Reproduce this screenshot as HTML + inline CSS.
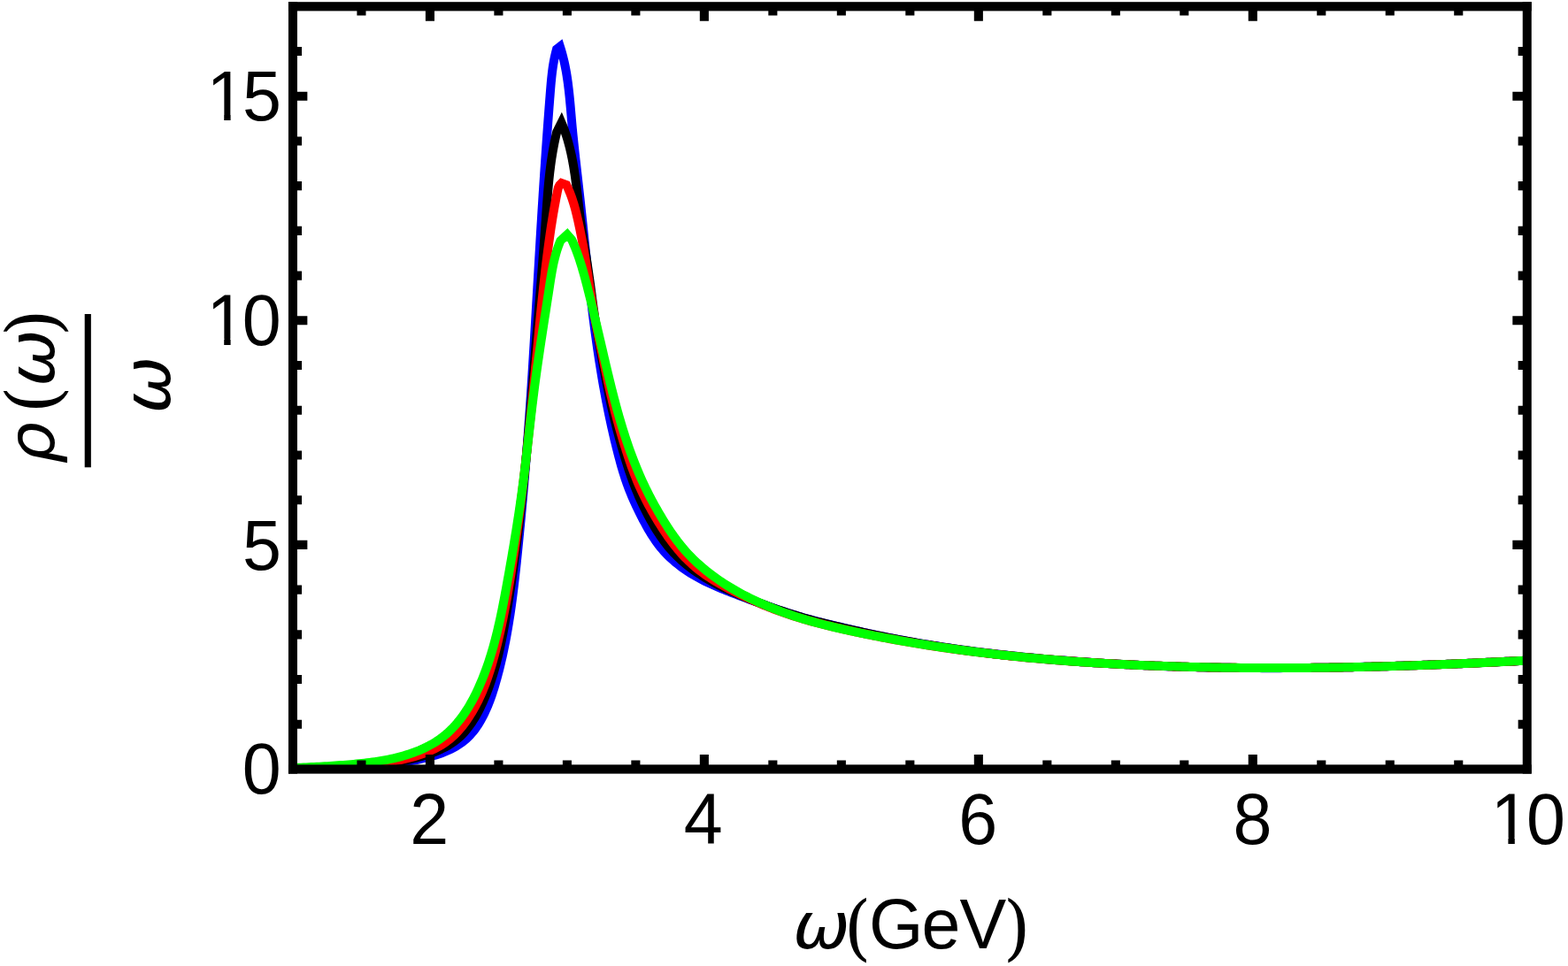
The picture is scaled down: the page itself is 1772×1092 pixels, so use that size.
<!DOCTYPE html>
<html lang="en"><head><meta charset="utf-8"><title>Spectral function plot</title>
<style>html,body{margin:0;padding:0;background:#fff;overflow:hidden}svg{display:block}text{font-family:"Liberation Sans",sans-serif;fill:#000;white-space:pre}text.gk{font-family:"DejaVu Sans","Liberation Sans",sans-serif;font-style:italic}.pr{font-family:"DejaVu Serif","Liberation Serif",serif}</style></head><body>
<svg width="1772" height="1092" viewBox="0 0 1772 1092">
<rect width="1772" height="1092" fill="#fff"/>
<defs><clipPath id="pc"><rect x="330.95" y="7.3" width="1394.80" height="862.20"/></clipPath><clipPath id="c1_1"><rect x="228.55" y="309.52" width="47.18" height="73.60"/><rect x="253.22" y="382.42" width="7.38" height="8.60"/><rect x="275.73" y="309.52" width="60.00" height="100.00"/></clipPath><clipPath id="c1_2"><rect x="228.55" y="56.34" width="47.36" height="73.73"/><rect x="253.22" y="129.36" width="7.38" height="8.47"/><rect x="275.91" y="56.34" width="60.00" height="100.00"/></clipPath><clipPath id="c1_3"><rect x="1679.75" y="873.50" width="47.18" height="73.60"/><rect x="1704.42" y="946.40" width="7.38" height="8.60"/><rect x="1726.93" y="873.50" width="60.00" height="100.00"/></clipPath></defs>
<g clip-path="url(#pc)" fill="none" stroke-width="10" stroke-linejoin="miter" stroke-miterlimit="10" stroke-linecap="butt">
<polyline stroke="#0000ff" points="331.00,869.10 333.97,868.99 336.94,868.89 339.92,868.81 342.91,868.73 345.90,868.66 348.90,868.60 351.91,868.55 354.91,868.50 357.93,868.45 360.94,868.41 363.96,868.36 366.98,868.32 370.00,868.27 373.02,868.23 376.04,868.17 379.06,868.12 382.08,868.05 385.09,867.98 388.11,867.90 391.12,867.81 394.12,867.71 397.13,867.59 400.12,867.46 403.11,867.31 406.10,867.15 409.08,866.97 412.06,866.78 415.04,866.57 418.01,866.34 420.98,866.09 423.95,865.82 426.92,865.54 429.89,865.24 432.85,864.91 435.82,864.57 438.79,864.21 441.77,863.82 444.74,863.42 447.72,862.99 450.71,862.54 453.69,862.07 456.69,861.57 459.69,861.06 462.69,860.52 465.71,859.95 468.73,859.36 471.75,858.74 474.78,858.10 477.81,857.42 480.83,856.71 483.84,855.95 486.84,855.15 489.81,854.30 492.76,853.40 495.69,852.44 498.58,851.43 501.43,850.35 504.25,849.20 507.01,847.98 509.73,846.69 512.39,845.32 514.99,843.87 517.53,842.33 520.00,840.70 522.40,838.98 524.73,837.16 526.97,835.25 529.12,833.22 531.19,831.10 533.17,828.87 535.07,826.56 536.89,824.17 538.63,821.71 540.30,819.19 541.90,816.62 543.42,814.00 544.88,811.35 546.28,808.68 547.61,805.98 548.89,803.25 550.12,800.50 551.29,797.73 552.41,794.94 553.49,792.14 554.53,789.31 555.52,786.48 556.48,783.63 557.41,780.76 558.31,777.89 559.18,775.01 560.02,772.13 560.85,769.23 561.65,766.34 562.44,763.44 563.21,760.53 563.96,757.63 564.69,754.71 565.41,751.80 566.11,748.88 566.79,745.96 567.46,743.04 568.11,740.11 568.75,737.18 569.37,734.24 569.98,731.31 570.57,728.37 571.15,725.43 571.72,722.48 572.27,719.53 572.81,716.58 573.33,713.63 573.85,710.68 574.35,707.72 574.84,704.76 575.32,701.80 575.79,698.83 576.25,695.87 576.70,692.90 577.13,689.93 577.56,686.96 577.98,683.99 578.39,681.01 578.79,678.04 579.19,675.06 579.57,672.08 579.95,669.10 580.32,666.12 580.69,663.14 581.05,660.15 581.40,657.17 581.74,654.18 582.09,651.20 582.42,648.21 582.75,645.22 583.08,642.23 583.40,639.25 583.72,636.26 584.03,633.27 584.35,630.28 584.65,627.29 584.96,624.30 585.27,621.31 585.57,618.32 585.87,615.33 586.17,612.34 586.47,609.35 586.76,606.36 587.06,603.37 587.35,600.38 587.64,597.39 587.93,594.40 588.21,591.41 588.50,588.42 588.78,585.43 589.06,582.44 589.34,579.45 589.62,576.46 589.89,573.47 590.17,570.48 590.44,567.49 590.71,564.50 590.97,561.51 591.24,558.52 591.50,555.53 591.77,552.54 592.03,549.55 592.29,546.56 592.54,543.57 592.80,540.58 593.05,537.59 593.30,534.59 593.55,531.60 593.80,528.61 594.04,525.62 594.29,522.63 594.53,519.64 594.77,516.64 595.01,513.65 595.24,510.66 595.48,507.67 595.71,504.67 595.94,501.68 596.17,498.69 596.39,495.69 596.62,492.70 596.84,489.71 597.06,486.71 597.28,483.72 597.50,480.72 597.72,477.73 597.93,474.73 598.15,471.74 598.36,468.74 598.57,465.75 598.78,462.75 598.98,459.76 599.19,456.76 599.40,453.77 599.60,450.77 599.80,447.78 600.00,444.78 600.20,441.78 600.40,438.79 600.60,435.79 600.79,432.79 600.99,429.80 601.18,426.80 601.38,423.80 601.57,420.81 601.76,417.81 601.95,414.81 602.14,411.82 602.32,408.82 602.51,405.82 602.70,402.82 602.88,399.83 603.07,396.83 603.25,393.83 603.44,390.83 603.62,387.84 603.80,384.84 603.98,381.84 604.16,378.84 604.34,375.85 604.52,372.85 604.70,369.85 604.88,366.85 605.06,363.85 605.23,360.86 605.41,357.86 605.59,354.86 605.76,351.86 605.94,348.86 606.12,345.86 606.29,342.87 606.47,339.87 606.64,336.87 606.82,333.87 606.99,330.87 607.17,327.87 607.34,324.88 607.52,321.88 607.69,318.88 607.87,315.88 608.04,312.88 608.22,309.88 608.39,306.89 608.57,303.89 608.74,300.89 608.92,297.89 609.09,294.89 609.27,291.90 609.45,288.90 609.62,285.90 609.80,282.90 609.98,279.90 610.15,276.91 610.33,273.91 610.51,270.91 610.69,267.91 610.87,264.92 611.05,261.92 611.23,258.92 611.41,255.92 611.60,252.93 611.78,249.93 611.96,246.93 612.15,243.93 612.33,240.94 612.52,237.94 612.71,234.94 612.89,231.95 613.08,228.95 613.27,225.95 613.46,222.96 613.65,219.96 613.84,216.96 614.04,213.97 614.23,210.97 614.43,207.98 614.62,204.98 614.82,201.98 615.02,198.99 615.21,195.99 615.41,193.00 615.61,190.00 615.82,187.00 616.02,184.01 616.22,181.01 616.43,178.02 616.63,175.02 616.84,172.03 617.05,169.03 617.26,166.04 617.47,163.04 617.68,160.05 617.89,157.05 618.11,154.06 618.32,151.06 618.54,148.07 618.76,145.07 618.98,142.08 619.20,139.08 619.42,136.09 619.65,133.09 619.87,130.10 620.10,127.10 620.33,124.11 620.55,121.11 620.79,118.12 621.02,115.12 621.25,112.13 621.49,109.14 621.72,106.14 621.96,103.15 622.20,100.15 622.45,97.16 622.71,94.17 622.98,91.18 623.28,88.19 623.60,85.21 623.94,82.23 624.32,79.25 624.73,76.28 625.19,73.32 625.69,70.36 626.24,67.41 626.84,64.47 627.50,61.54 628.22,58.61 629.00,55.70 632.90,52.60 633.80,55.48 634.66,58.36 635.47,61.25 636.23,64.16 636.94,67.07 637.62,69.99 638.26,72.91 638.85,75.85 639.42,78.78 639.95,81.73 640.45,84.68 640.91,87.64 641.35,90.60 641.77,93.57 642.16,96.54 642.53,99.52 642.87,102.50 643.20,105.48 643.52,108.46 643.82,111.45 644.11,114.44 644.39,117.44 644.66,120.43 644.92,123.42 645.18,126.42 645.44,129.42 645.69,132.41 645.95,135.41 646.21,138.40 646.48,141.40 646.76,144.39 647.04,147.38 647.33,150.37 647.62,153.36 647.92,156.35 648.23,159.33 648.54,162.32 648.85,165.30 649.17,168.28 649.50,171.27 649.82,174.25 650.15,177.23 650.48,180.21 650.82,183.19 651.16,186.17 651.49,189.15 651.83,192.13 652.17,195.11 652.51,198.09 652.85,201.07 653.19,204.05 653.53,207.03 653.87,210.01 654.20,212.99 654.54,215.97 654.87,218.95 655.20,221.93 655.53,224.91 655.85,227.89 656.18,230.88 656.50,233.86 656.82,236.84 657.14,239.82 657.46,242.81 657.78,245.79 658.10,248.77 658.42,251.76 658.73,254.74 659.05,257.73 659.36,260.71 659.68,263.70 659.99,266.68 660.31,269.66 660.62,272.65 660.94,275.63 661.25,278.62 661.57,281.60 661.89,284.59 662.21,287.57 662.52,290.55 662.84,293.54 663.16,296.52 663.49,299.51 663.81,302.49 664.14,305.47 664.46,308.46 664.79,311.44 665.12,314.42 665.46,317.41 665.79,320.39 666.13,323.37 666.47,326.35 666.81,329.33 667.16,332.32 667.51,335.30 667.86,338.28 668.21,341.26 668.57,344.24 668.93,347.21 669.30,350.19 669.67,353.17 670.04,356.15 670.41,359.13 670.79,362.10 671.18,365.08 671.57,368.05 671.96,371.03 672.36,374.00 672.76,376.97 673.17,379.95 673.58,382.92 674.00,385.89 674.42,388.86 674.85,391.83 675.28,394.80 675.72,397.77 676.17,400.73 676.62,403.70 677.07,406.67 677.54,409.63 678.00,412.59 678.48,415.56 678.96,418.52 679.45,421.48 679.94,424.44 680.44,427.40 680.95,430.35 681.47,433.31 681.99,436.26 682.52,439.22 683.05,442.17 683.60,445.12 684.15,448.07 684.71,451.02 685.27,453.96 685.85,456.91 686.43,459.85 687.02,462.79 687.62,465.73 688.22,468.67 688.84,471.61 689.46,474.54 690.09,477.48 690.73,480.41 691.38,483.34 692.04,486.27 692.70,489.19 693.38,492.11 694.06,495.04 694.76,497.96 695.46,500.87 696.17,503.79 696.89,506.70 697.62,509.61 698.36,512.52 699.12,515.43 699.88,518.33 700.66,521.23 701.45,524.13 702.27,527.01 703.10,529.89 703.96,532.77 704.84,535.63 705.75,538.49 706.68,541.34 707.64,544.18 708.64,547.00 709.67,549.81 710.73,552.62 711.83,555.40 712.95,558.18 714.11,560.95 715.30,563.71 716.51,566.45 717.75,569.19 719.01,571.92 720.30,574.63 721.61,577.34 722.95,580.04 724.30,582.73 725.68,585.42 727.07,588.09 728.49,590.76 729.93,593.41 731.39,596.05 732.89,598.66 734.43,601.26 736.00,603.82 737.61,606.36 739.26,608.87 740.96,611.34 742.70,613.78 744.50,616.17 746.35,618.53 748.27,620.83 750.24,623.09 752.27,625.29 754.36,627.44 756.50,629.55 758.70,631.60 760.95,633.61 763.24,635.57 765.58,637.47 767.96,639.33 770.38,641.14 772.83,642.91 775.32,644.62 777.84,646.29 780.39,647.91 782.96,649.48 785.55,651.01 788.17,652.49 790.80,653.93 793.46,655.33 796.13,656.69 798.82,658.02 801.52,659.31 804.24,660.57 806.97,661.80 809.72,663.01 812.47,664.19 815.24,665.35 818.01,666.48 820.80,667.60 823.59,668.71 826.39,669.80 829.19,670.88 832.00,671.95 834.81,673.01 837.62,674.07 840.43,675.13 843.24,676.19 846.06,677.24 848.87,678.29 851.69,679.33 854.50,680.37 857.32,681.41 860.14,682.43 862.97,683.46 865.79,684.47 868.62,685.48 871.45,686.48 874.28,687.47 877.12,688.45 879.96,689.42 882.80,690.38 885.64,691.33 888.49,692.27 891.34,693.19 894.20,694.11 897.06,695.00 899.92,695.89 902.79,696.76 905.66,697.62 908.54,698.45 911.42,699.28 914.30,700.08 917.20,700.87 920.09,701.64 922.99,702.40 925.90,703.14 928.81,703.86 931.72,704.57 934.64,705.28 937.56,705.97 940.48,706.66 943.40,707.35 946.32,708.03 949.25,708.71 952.17,709.39 955.09,710.08 958.02,710.76 960.94,711.44 963.86,712.12 966.79,712.80 969.72,713.47 972.64,714.13 975.57,714.78 978.50,715.43 981.43,716.07 984.37,716.70 987.30,717.33 990.24,717.95 993.18,718.56 996.12,719.16 999.06,719.76 1002.00,720.35 1004.94,720.93 1007.88,721.51 1010.83,722.08 1013.78,722.64 1016.72,723.20 1019.67,723.75 1022.62,724.29 1025.58,724.83 1028.53,725.36 1031.48,725.88 1034.44,726.40 1037.39,726.91 1040.35,727.41 1043.31,727.91 1046.27,728.40 1049.23,728.89 1052.19,729.37 1055.15,729.84 1058.12,730.31 1061.08,730.77 1064.05,731.22 1067.01,731.67 1069.98,732.12 1072.95,732.55 1075.92,732.99 1078.89,733.41 1081.86,733.83 1084.83,734.25 1087.80,734.66 1090.78,735.06 1093.75,735.46 1096.73,735.85 1099.70,736.24 1102.68,736.62 1105.66,737.00 1108.63,737.37 1111.61,737.74 1114.59,738.10 1117.57,738.46 1120.55,738.81 1123.54,739.16 1126.52,739.50 1129.50,739.84 1132.48,740.17 1135.47,740.50 1138.45,740.82 1141.44,741.14 1144.42,741.45 1147.41,741.76 1150.40,742.07 1153.38,742.37 1156.37,742.66 1159.36,742.95 1162.35,743.24 1165.34,743.52 1168.33,743.80 1171.32,744.08 1174.31,744.35 1177.30,744.61 1180.29,744.88 1183.28,745.13 1186.27,745.39 1189.26,745.64 1192.25,745.89 1195.24,746.13 1198.24,746.37 1201.23,746.60 1204.22,746.84 1207.21,747.06 1210.21,747.29 1213.20,747.51 1216.19,747.73 1219.19,747.94 1222.18,748.15 1225.17,748.36 1228.17,748.56 1231.16,748.76 1234.16,748.96 1237.15,749.15 1240.15,749.34 1243.14,749.53 1246.14,749.71 1249.13,749.89 1252.13,750.07 1255.12,750.24 1258.12,750.41 1261.11,750.58 1264.11,750.74 1267.11,750.90 1270.10,751.06 1273.10,751.21 1276.10,751.36 1279.09,751.51 1282.09,751.65 1285.09,751.79 1288.08,751.93 1291.08,752.06 1294.08,752.20 1297.08,752.32 1300.07,752.45 1303.07,752.57 1306.07,752.69 1309.07,752.81 1312.07,752.92 1315.06,753.03 1318.06,753.14 1321.06,753.24 1324.06,753.34 1327.06,753.44 1330.06,753.53 1333.05,753.63 1336.05,753.72 1339.05,753.80 1342.05,753.88 1345.05,753.97 1348.05,754.04 1351.05,754.12 1354.05,754.19 1357.05,754.26 1360.05,754.33 1363.05,754.39 1366.05,754.45 1369.05,754.51 1372.05,754.57 1375.05,754.62 1378.05,754.67 1381.05,754.72 1384.05,754.76 1387.05,754.81 1390.05,754.84 1393.05,754.88 1396.05,754.92 1399.05,754.95 1402.05,754.98 1405.05,755.01 1408.05,755.03 1411.05,755.05 1414.05,755.07 1417.05,755.09 1420.05,755.10 1423.06,755.12 1426.06,755.13 1429.06,755.13 1432.06,755.14 1435.06,755.14 1438.06,755.14 1441.06,755.14 1444.06,755.14 1447.06,755.13 1450.06,755.12 1453.07,755.11 1456.07,755.10 1459.07,755.08 1462.07,755.06 1465.07,755.04 1468.07,755.02 1471.07,754.99 1474.07,754.97 1477.08,754.94 1480.08,754.91 1483.08,754.88 1486.08,754.84 1489.08,754.80 1492.08,754.76 1495.08,754.72 1498.08,754.68 1501.09,754.63 1504.09,754.59 1507.09,754.54 1510.09,754.49 1513.09,754.43 1516.09,754.38 1519.09,754.32 1522.09,754.26 1525.09,754.20 1528.09,754.14 1531.10,754.07 1534.10,754.01 1537.10,753.94 1540.10,753.87 1543.10,753.80 1546.10,753.72 1549.10,753.65 1552.10,753.57 1555.10,753.49 1558.10,753.41 1561.10,753.33 1564.10,753.24 1567.10,753.16 1570.10,753.07 1573.10,752.98 1576.10,752.89 1579.10,752.80 1582.10,752.71 1585.10,752.61 1588.10,752.51 1591.10,752.42 1594.10,752.32 1597.10,752.21 1600.10,752.11 1603.10,752.01 1606.10,751.90 1609.10,751.79 1612.10,751.68 1615.10,751.57 1618.10,751.46 1621.10,751.35 1624.10,751.24 1627.10,751.12 1630.09,751.00 1633.09,750.89 1636.09,750.77 1639.09,750.65 1642.09,750.52 1645.09,750.40 1648.08,750.28 1651.08,750.15 1654.08,750.02 1657.08,749.89 1660.07,749.77 1663.07,749.64 1666.07,749.50 1669.07,749.37 1672.06,749.24 1675.06,749.10 1678.06,748.97 1681.05,748.83 1684.05,748.69 1687.05,748.55 1690.04,748.41 1693.04,748.27 1696.04,748.13 1699.03,747.99 1702.03,747.84 1705.02,747.70 1708.02,747.55 1711.01,747.40 1714.01,747.26 1717.00,747.11 1720.00,746.96 1722.99,746.81 1725.99,746.66"/>
<polyline stroke="#000000" points="330.99,868.90 334.01,868.79 337.03,868.69 340.05,868.60 343.06,868.52 346.08,868.43 349.09,868.36 352.10,868.28 355.11,868.21 358.12,868.13 361.13,868.06 364.14,867.99 367.15,867.91 370.15,867.83 373.16,867.75 376.16,867.66 379.16,867.57 382.16,867.47 385.16,867.36 388.16,867.24 391.16,867.11 394.16,866.97 397.15,866.82 400.15,866.66 403.14,866.48 406.13,866.29 409.13,866.08 412.12,865.86 415.11,865.61 418.10,865.35 421.09,865.07 424.07,864.77 427.06,864.45 430.05,864.10 433.03,863.73 436.02,863.34 439.00,862.91 441.98,862.47 444.97,861.99 447.95,861.49 450.93,860.96 453.91,860.39 456.89,859.80 459.87,859.17 462.85,858.51 465.83,857.82 468.81,857.08 471.79,856.32 474.76,855.51 477.72,854.66 480.66,853.76 483.59,852.81 486.49,851.81 489.36,850.75 492.21,849.64 495.01,848.46 497.78,847.21 500.49,845.90 503.16,844.51 505.78,843.05 508.34,841.51 510.83,839.89 513.26,838.19 515.62,836.39 517.90,834.51 520.10,832.53 522.22,830.46 524.26,828.30 526.22,826.06 528.12,823.75 529.94,821.38 531.70,818.94 533.40,816.44 535.03,813.90 536.61,811.32 538.13,808.70 539.60,806.05 541.01,803.36 542.38,800.65 543.71,797.92 544.99,795.17 546.23,792.40 547.43,789.61 548.59,786.82 549.72,784.01 550.82,781.20 551.88,778.38 552.91,775.54 553.91,772.70 554.87,769.85 555.81,766.99 556.72,764.13 557.60,761.25 558.45,758.37 559.28,755.48 560.09,752.59 560.86,749.69 561.62,746.78 562.36,743.87 563.07,740.95 563.76,738.02 564.44,735.10 565.09,732.16 565.73,729.22 566.35,726.28 566.96,723.33 567.55,720.39 568.13,717.43 568.69,714.48 569.25,711.52 569.79,708.56 570.33,705.59 570.85,702.63 571.37,699.66 571.88,696.70 572.38,693.73 572.88,690.76 573.37,687.79 573.86,684.82 574.34,681.85 574.82,678.87 575.29,675.90 575.76,672.93 576.22,669.95 576.67,666.98 577.12,664.00 577.57,661.03 578.01,658.05 578.45,655.07 578.88,652.09 579.30,649.11 579.73,646.13 580.14,643.15 580.56,640.17 580.97,637.19 581.37,634.21 581.77,631.23 582.17,628.24 582.56,625.26 582.95,622.28 583.33,619.29 583.71,616.31 584.09,613.32 584.46,610.33 584.83,607.35 585.20,604.36 585.56,601.37 585.92,598.39 586.28,595.40 586.63,592.41 586.98,589.42 587.33,586.43 587.67,583.44 588.01,580.45 588.35,577.46 588.69,574.47 589.02,571.48 589.35,568.49 589.67,565.50 590.00,562.51 590.32,559.52 590.64,556.53 590.96,553.53 591.27,550.54 591.58,547.55 591.89,544.56 592.20,541.56 592.50,538.57 592.80,535.58 593.11,532.58 593.40,529.59 593.70,526.59 593.99,523.60 594.28,520.60 594.57,517.61 594.86,514.61 595.15,511.62 595.43,508.62 595.71,505.63 595.99,502.63 596.27,499.63 596.55,496.64 596.82,493.64 597.10,490.65 597.37,487.65 597.64,484.65 597.91,481.65 598.18,478.66 598.44,475.66 598.71,472.66 598.97,469.66 599.23,466.67 599.50,463.67 599.75,460.67 600.01,457.67 600.27,454.67 600.53,451.68 600.78,448.68 601.04,445.68 601.29,442.68 601.54,439.68 601.80,436.68 602.05,433.68 602.30,430.69 602.55,427.69 602.80,424.69 603.05,421.69 603.29,418.69 603.54,415.69 603.79,412.69 604.03,409.69 604.28,406.69 604.53,403.69 604.77,400.69 605.02,397.69 605.26,394.70 605.51,391.70 605.75,388.70 606.00,385.70 606.24,382.70 606.49,379.70 606.73,376.70 606.97,373.70 607.22,370.70 607.46,367.70 607.71,364.70 607.95,361.70 608.20,358.71 608.45,355.71 608.69,352.71 608.94,349.71 609.18,346.71 609.43,343.71 609.68,340.71 609.92,337.71 610.17,334.72 610.41,331.72 610.66,328.72 610.90,325.72 611.14,322.72 611.39,319.72 611.63,316.72 611.87,313.72 612.11,310.72 612.35,307.73 612.59,304.73 612.83,301.73 613.06,298.73 613.30,295.73 613.53,292.73 613.77,289.73 614.00,286.73 614.23,283.73 614.46,280.73 614.68,277.73 614.91,274.73 615.13,271.73 615.35,268.73 615.58,265.73 615.79,262.73 616.01,259.73 616.22,256.72 616.44,253.72 616.65,250.72 616.86,247.72 617.06,244.72 617.27,241.72 617.48,238.71 617.69,235.71 617.91,232.71 618.12,229.71 618.35,226.71 618.58,223.71 618.82,220.71 619.06,217.72 619.31,214.72 619.58,211.73 619.85,208.73 620.14,205.74 620.44,202.75 620.76,199.76 621.09,196.77 621.43,193.79 621.79,190.80 622.17,187.82 622.57,184.84 622.99,181.87 623.43,178.89 623.89,175.92 624.38,172.95 624.89,169.98 625.42,167.02 625.98,164.06 626.57,161.10 627.18,158.14 627.82,155.19 628.50,152.24 629.20,149.30 634.50,138.70 636.80,144.10 637.85,146.95 638.85,149.81 639.80,152.67 640.70,155.55 641.56,158.43 642.38,161.33 643.15,164.23 643.89,167.14 644.59,170.05 645.25,172.98 645.88,175.91 646.48,178.84 647.05,181.79 647.59,184.74 648.11,187.69 648.60,190.65 649.06,193.61 649.51,196.58 649.94,199.55 650.35,202.52 650.75,205.50 651.14,208.48 651.51,211.46 651.87,214.44 652.23,217.43 652.58,220.42 652.93,223.40 653.27,226.39 653.62,229.38 653.97,232.37 654.32,235.36 654.67,238.34 655.04,241.33 655.41,244.31 655.79,247.30 656.19,250.28 656.60,253.25 657.03,256.23 657.47,259.20 657.92,262.17 658.39,265.14 658.86,268.10 659.33,271.07 659.81,274.03 660.30,277.00 660.78,279.96 661.26,282.93 661.74,285.89 662.22,288.86 662.69,291.82 663.16,294.79 663.61,297.76 664.07,300.73 664.51,303.70 664.95,306.67 665.39,309.64 665.82,312.62 666.24,315.59 666.66,318.57 667.08,321.54 667.48,324.52 667.89,327.50 668.29,330.47 668.69,333.45 669.08,336.43 669.48,339.41 669.88,342.38 670.28,345.36 670.69,348.34 671.11,351.31 671.53,354.28 671.96,357.26 672.40,360.23 672.86,363.19 673.33,366.16 673.81,369.12 674.31,372.08 674.81,375.04 675.33,378.00 675.85,380.96 676.38,383.92 676.91,386.87 677.45,389.83 677.99,392.78 678.54,395.74 679.09,398.69 679.64,401.64 680.18,404.60 680.73,407.55 681.28,410.51 681.83,413.46 682.38,416.42 682.94,419.37 683.50,422.32 684.06,425.28 684.63,428.23 685.20,431.18 685.77,434.13 686.36,437.08 686.95,440.02 687.54,442.97 688.15,445.91 688.76,448.86 689.38,451.80 690.01,454.74 690.65,457.67 691.30,460.61 691.96,463.54 692.63,466.47 693.31,469.40 694.01,472.32 694.72,475.24 695.44,478.16 696.17,481.07 696.92,483.99 697.68,486.90 698.45,489.80 699.23,492.70 700.02,495.60 700.82,498.50 701.63,501.39 702.45,504.28 703.29,507.16 704.13,510.04 704.97,512.92 705.83,515.79 706.70,518.66 707.58,521.53 708.47,524.38 709.38,527.24 710.31,530.08 711.25,532.93 712.21,535.76 713.20,538.59 714.20,541.41 715.23,544.22 716.28,547.03 717.36,549.82 718.47,552.61 719.61,555.39 720.77,558.16 721.95,560.92 723.17,563.67 724.41,566.42 725.68,569.15 726.98,571.88 728.31,574.59 729.66,577.30 731.04,579.99 732.44,582.68 733.88,585.35 735.34,588.02 736.83,590.67 738.36,593.31 739.91,595.93 741.50,598.52 743.12,601.10 744.77,603.65 746.46,606.17 748.19,608.65 749.96,611.11 751.76,613.52 753.61,615.90 755.50,618.23 757.43,620.52 759.41,622.76 761.43,624.96 763.49,627.10 765.60,629.20 767.75,631.25 769.93,633.25 772.16,635.22 774.43,637.13 776.73,639.01 779.06,640.85 781.43,642.64 783.83,644.40 786.26,646.12 788.73,647.80 791.22,649.45 793.74,651.06 796.28,652.63 798.85,654.18 801.45,655.69 804.06,657.17 806.70,658.63 809.36,660.05 812.04,661.44 814.73,662.81 817.44,664.16 820.17,665.48 822.91,666.77 825.66,668.04 828.43,669.29 831.20,670.53 833.99,671.74 836.78,672.93 839.58,674.10 842.38,675.26 845.19,676.41 848.00,677.53 850.81,678.65 853.62,679.75 856.43,680.84 859.25,681.92 862.06,682.99 864.88,684.04 867.69,685.08 870.51,686.11 873.33,687.12 876.16,688.12 878.98,689.11 881.81,690.08 884.64,691.04 887.48,691.99 890.32,692.92 893.16,693.84 896.01,694.74 898.86,695.63 901.72,696.51 904.58,697.37 907.45,698.21 910.32,699.05 913.20,699.86 916.09,700.66 918.98,701.45 921.88,702.22 924.78,702.98 927.69,703.72 930.61,704.45 933.53,705.18 936.45,705.89 939.38,706.59 942.31,707.29 945.24,707.98 948.17,708.66 951.10,709.34 954.03,710.02 956.97,710.69 959.90,711.36 962.84,712.02 965.77,712.68 968.71,713.34 971.64,713.99 974.58,714.64 977.52,715.28 980.46,715.91 983.40,716.54 986.34,717.17 989.28,717.79 992.22,718.40 995.17,719.01 998.11,719.61 1001.06,720.20 1004.00,720.79 1006.95,721.37 1009.90,721.94 1012.85,722.51 1015.80,723.07 1018.75,723.62 1021.71,724.17 1024.66,724.71 1027.62,725.24 1030.58,725.77 1033.54,726.29 1036.49,726.81 1039.45,727.31 1042.42,727.82 1045.38,728.31 1048.34,728.80 1051.31,729.29 1054.27,729.76 1057.24,730.23 1060.21,730.70 1063.17,731.16 1066.14,731.61 1069.11,732.06 1072.09,732.50 1075.06,732.94 1078.03,733.37 1081.00,733.79 1083.98,734.21 1086.95,734.62 1089.93,735.03 1092.91,735.43 1095.89,735.83 1098.86,736.22 1101.84,736.61 1104.82,736.99 1107.80,737.37 1110.79,737.74 1113.77,738.10 1116.75,738.46 1119.73,738.82 1122.72,739.16 1125.70,739.51 1128.69,739.85 1131.68,740.18 1134.66,740.51 1137.65,740.84 1140.64,741.16 1143.63,741.47 1146.62,741.79 1149.61,742.09 1152.60,742.39 1155.59,742.69 1158.58,742.98 1161.57,743.27 1164.56,743.55 1167.56,743.83 1170.55,744.11 1173.54,744.38 1176.54,744.64 1179.53,744.91 1182.53,745.16 1185.52,745.42 1188.52,745.67 1191.51,745.91 1194.51,746.15 1197.51,746.39 1200.50,746.62 1203.50,746.85 1206.50,747.08 1209.50,747.30 1212.49,747.52 1215.49,747.74 1218.49,747.95 1221.49,748.15 1224.49,748.36 1227.49,748.56 1230.49,748.76 1233.49,748.95 1236.49,749.14 1239.49,749.33 1242.49,749.51 1245.49,749.69 1248.49,749.87 1251.49,750.04 1254.49,750.21 1257.49,750.38 1260.49,750.54 1263.49,750.71 1266.49,750.86 1269.49,751.02 1272.49,751.17 1275.50,751.32 1278.50,751.46 1281.50,751.61 1284.50,751.75 1287.50,751.88 1290.50,752.02 1293.51,752.15 1296.51,752.27 1299.51,752.40 1302.51,752.52 1305.51,752.64 1308.52,752.75 1311.52,752.86 1314.52,752.97 1317.52,753.08 1320.53,753.18 1323.53,753.28 1326.53,753.38 1329.54,753.48 1332.54,753.57 1335.54,753.66 1338.55,753.74 1341.55,753.83 1344.55,753.91 1347.56,753.99 1350.56,754.06 1353.56,754.14 1356.57,754.21 1359.57,754.27 1362.57,754.34 1365.58,754.40 1368.58,754.46 1371.58,754.51 1374.59,754.57 1377.59,754.62 1380.60,754.67 1383.60,754.71 1386.60,754.76 1389.61,754.80 1392.61,754.84 1395.62,754.87 1398.62,754.91 1401.63,754.94 1404.63,754.97 1407.64,754.99 1410.64,755.01 1413.64,755.04 1416.65,755.05 1419.65,755.07 1422.66,755.08 1425.66,755.09 1428.67,755.10 1431.67,755.11 1434.68,755.11 1437.68,755.12 1440.69,755.12 1443.69,755.11 1446.70,755.11 1449.70,755.10 1452.71,755.09 1455.71,755.08 1458.71,755.06 1461.72,755.05 1464.72,755.03 1467.73,755.01 1470.73,754.99 1473.74,754.96 1476.74,754.93 1479.75,754.90 1482.75,754.87 1485.76,754.84 1488.76,754.80 1491.77,754.77 1494.77,754.73 1497.78,754.68 1500.78,754.64 1503.79,754.59 1506.79,754.55 1509.80,754.50 1512.80,754.45 1515.81,754.39 1518.81,754.34 1521.82,754.28 1524.82,754.22 1527.83,754.16 1530.83,754.09 1533.83,754.03 1536.84,753.96 1539.84,753.89 1542.85,753.82 1545.85,753.75 1548.86,753.68 1551.86,753.60 1554.87,753.52 1557.87,753.44 1560.87,753.36 1563.88,753.28 1566.88,753.19 1569.89,753.11 1572.89,753.02 1575.89,752.93 1578.90,752.84 1581.90,752.74 1584.91,752.65 1587.91,752.55 1590.91,752.45 1593.92,752.35 1596.92,752.25 1599.92,752.15 1602.93,752.05 1605.93,751.94 1608.93,751.83 1611.94,751.72 1614.94,751.61 1617.94,751.50 1620.95,751.39 1623.95,751.28 1626.95,751.16 1629.96,751.04 1632.96,750.92 1635.96,750.80 1638.96,750.68 1641.97,750.56 1644.97,750.43 1647.97,750.31 1650.97,750.18 1653.98,750.05 1656.98,749.92 1659.98,749.79 1662.98,749.66 1665.98,749.53 1668.98,749.40 1671.99,749.26 1674.99,749.12 1677.99,748.99 1680.99,748.85 1683.99,748.71 1686.99,748.56 1689.99,748.42 1692.99,748.28 1695.99,748.13 1698.99,747.99 1702.00,747.84 1705.00,747.69 1708.00,747.54 1711.00,747.40 1714.00,747.24 1717.00,747.09 1720.00,746.94 1722.99,746.79 1725.99,746.63"/>
<polyline stroke="#ff0000" points="330.97,868.68 334.03,868.57 337.08,868.47 340.12,868.37 343.15,868.28 346.18,868.18 349.20,868.09 352.22,867.99 355.22,867.90 358.23,867.80 361.22,867.70 364.21,867.60 367.20,867.49 370.19,867.38 373.17,867.26 376.14,867.14 379.12,867.00 382.09,866.86 385.06,866.71 388.02,866.55 390.99,866.38 393.96,866.20 396.92,866.01 399.89,865.80 402.85,865.57 405.82,865.34 408.78,865.08 411.75,864.81 414.72,864.52 417.69,864.22 420.67,863.89 423.65,863.55 426.63,863.18 429.62,862.79 432.61,862.38 435.60,861.94 438.60,861.48 441.61,861.00 444.62,860.49 447.63,859.95 450.64,859.37 453.64,858.77 456.64,858.12 459.63,857.43 462.60,856.71 465.56,855.93 468.50,855.11 471.42,854.24 474.32,853.32 477.19,852.34 480.03,851.30 482.84,850.20 485.61,849.04 488.34,847.81 491.04,846.51 493.69,845.14 496.30,843.70 498.85,842.19 501.36,840.59 503.81,838.91 506.20,837.15 508.53,835.30 510.80,833.36 513.01,831.34 515.15,829.23 517.23,827.04 519.25,824.79 521.21,822.47 523.11,820.10 524.95,817.68 526.74,815.22 528.47,812.73 530.15,810.20 531.77,807.65 533.35,805.08 534.87,802.49 536.35,799.87 537.78,797.23 539.16,794.57 540.50,791.89 541.79,789.19 543.05,786.47 544.27,783.73 545.44,780.98 546.58,778.21 547.69,775.42 548.76,772.62 549.79,769.81 550.80,766.98 551.77,764.14 552.72,761.29 553.64,758.43 554.54,755.56 555.41,752.69 556.25,749.80 557.08,746.91 557.89,744.01 558.67,741.10 559.44,738.19 560.20,735.28 560.94,732.36 561.66,729.44 562.38,726.52 563.08,723.60 563.76,720.67 564.44,717.74 565.10,714.81 565.76,711.88 566.40,708.94 567.03,706.01 567.65,703.07 568.26,700.13 568.85,697.18 569.44,694.24 570.02,691.29 570.59,688.35 571.15,685.40 571.70,682.45 572.24,679.49 572.78,676.54 573.30,673.58 573.82,670.63 574.33,667.67 574.83,664.71 575.33,661.75 575.82,658.79 576.30,655.82 576.77,652.86 577.24,649.89 577.71,646.93 578.17,643.96 578.62,640.99 579.07,638.02 579.51,635.05 579.95,632.08 580.39,629.11 580.82,626.14 581.25,623.17 581.67,620.20 582.10,617.22 582.51,614.25 582.93,611.28 583.34,608.30 583.75,605.33 584.16,602.35 584.56,599.37 584.96,596.40 585.36,593.42 585.75,590.44 586.14,587.47 586.53,584.49 586.92,581.51 587.30,578.53 587.68,575.55 588.06,572.57 588.44,569.59 588.81,566.61 589.18,563.63 589.55,560.65 589.91,557.67 590.28,554.69 590.64,551.70 590.99,548.72 591.35,545.74 591.70,542.76 592.06,539.77 592.41,536.79 592.75,533.81 593.10,530.82 593.44,527.84 593.78,524.85 594.12,521.87 594.46,518.88 594.79,515.90 595.12,512.91 595.45,509.93 595.78,506.94 596.11,503.95 596.44,500.97 596.76,497.98 597.08,494.99 597.40,492.01 597.72,489.02 598.04,486.03 598.35,483.04 598.67,480.06 598.98,477.07 599.29,474.08 599.60,471.09 599.91,468.11 600.22,465.12 600.52,462.13 600.83,459.14 601.13,456.15 601.43,453.17 601.74,450.18 602.04,447.19 602.33,444.20 602.63,441.21 602.93,438.22 603.22,435.23 603.52,432.25 603.81,429.26 604.11,426.27 604.40,423.28 604.69,420.29 604.98,417.30 605.27,414.32 605.56,411.33 605.85,408.34 606.14,405.35 606.43,402.36 606.71,399.37 607.00,396.39 607.29,393.40 607.57,390.41 607.86,387.42 608.14,384.44 608.43,381.45 608.72,378.46 609.01,375.47 609.29,372.49 609.58,369.50 609.87,366.51 610.17,363.52 610.46,360.54 610.75,357.55 611.05,354.56 611.35,351.58 611.65,348.59 611.95,345.60 612.26,342.62 612.57,339.63 612.88,336.64 613.19,333.66 613.51,330.67 613.83,327.69 614.15,324.70 614.48,321.71 614.81,318.73 615.14,315.74 615.48,312.76 615.83,309.77 616.17,306.79 616.52,303.80 616.88,300.81 617.24,297.83 617.61,294.84 617.98,291.86 618.35,288.87 618.74,285.89 619.12,282.90 619.52,279.92 619.92,276.94 620.32,273.95 620.74,270.97 621.16,267.99 621.58,265.02 622.02,262.04 622.46,259.07 622.91,256.10 623.37,253.13 623.84,250.16 624.32,247.20 624.81,244.24 625.30,241.29 625.81,238.34 626.33,235.39 626.86,232.45 627.39,229.51 627.94,226.57 628.50,223.65 629.08,220.72 629.66,217.81 630.25,214.89 630.98,212.03 632.25,209.37 634.55,207.10 640.10,209.10 641.40,211.77 642.63,214.48 643.78,217.21 644.87,219.98 645.89,222.77 646.86,225.58 647.78,228.42 648.65,231.28 649.47,234.16 650.25,237.05 651.00,239.96 651.71,242.87 652.40,245.80 653.07,248.74 653.72,251.68 654.35,254.62 654.97,257.56 655.58,260.51 656.18,263.46 656.76,266.41 657.34,269.37 657.90,272.32 658.45,275.28 658.99,278.24 659.51,281.20 660.03,284.16 660.54,287.12 661.04,290.09 661.53,293.05 662.01,296.02 662.48,298.98 662.95,301.94 663.41,304.91 663.87,307.87 664.32,310.84 664.77,313.80 665.22,316.77 665.67,319.73 666.12,322.69 666.57,325.66 667.03,328.62 667.49,331.58 667.95,334.54 668.41,337.50 668.89,340.46 669.37,343.41 669.86,346.37 670.35,349.32 670.86,352.28 671.38,355.23 671.91,358.18 672.45,361.13 673.01,364.07 673.58,367.02 674.16,369.96 674.76,372.90 675.36,375.84 675.97,378.78 676.59,381.71 677.21,384.65 677.83,387.59 678.45,390.52 679.08,393.46 679.70,396.40 680.32,399.33 680.93,402.27 681.54,405.21 682.15,408.15 682.75,411.08 683.36,414.02 683.96,416.96 684.57,419.90 685.18,422.83 685.79,425.77 686.41,428.70 687.04,431.64 687.67,434.57 688.32,437.50 688.97,440.42 689.64,443.35 690.31,446.27 691.00,449.20 691.70,452.11 692.40,455.03 693.12,457.95 693.85,460.86 694.59,463.77 695.34,466.67 696.10,469.58 696.87,472.48 697.66,475.38 698.45,478.28 699.25,481.17 700.07,484.06 700.89,486.94 701.73,489.83 702.57,492.71 703.43,495.59 704.30,498.46 705.18,501.33 706.07,504.20 706.97,507.06 707.88,509.92 708.80,512.77 709.74,515.62 710.68,518.47 711.64,521.31 712.62,524.14 713.62,526.97 714.63,529.79 715.67,532.60 716.73,535.40 717.81,538.20 718.92,540.98 720.05,543.75 721.21,546.50 722.40,549.25 723.63,551.98 724.88,554.70 726.16,557.41 727.47,560.11 728.80,562.79 730.16,565.46 731.55,568.13 732.96,570.78 734.40,573.42 735.85,576.05 737.33,578.67 738.84,581.28 740.36,583.89 741.90,586.48 743.46,589.07 745.04,591.64 746.64,594.20 748.27,596.75 749.92,599.28 751.59,601.79 753.29,604.29 755.02,606.76 756.77,609.21 758.55,611.64 760.36,614.04 762.21,616.41 764.08,618.75 765.99,621.07 767.92,623.35 769.90,625.59 771.91,627.80 773.95,629.97 776.04,632.10 778.16,634.19 780.32,636.24 782.52,638.25 784.76,640.20 787.04,642.11 789.37,643.98 791.73,645.80 794.12,647.59 796.55,649.33 799.01,651.03 801.51,652.69 804.03,654.32 806.57,655.92 809.14,657.48 811.74,659.01 814.36,660.52 816.99,661.99 819.64,663.44 822.31,664.86 824.99,666.26 827.69,667.64 830.39,669.00 833.10,670.34 835.82,671.67 838.54,672.97 841.27,674.27 844.00,675.55 846.73,676.81 849.47,678.06 852.22,679.29 854.96,680.51 857.71,681.71 860.47,682.89 863.23,684.05 866.00,685.20 868.78,686.32 871.56,687.43 874.35,688.51 877.14,689.58 879.95,690.62 882.76,691.65 885.58,692.65 888.40,693.63 891.24,694.59 894.08,695.53 896.93,696.44 899.78,697.34 902.65,698.22 905.51,699.09 908.39,699.93 911.27,700.76 914.15,701.58 917.04,702.38 919.94,703.16 922.84,703.93 925.74,704.69 928.65,705.44 931.56,706.17 934.48,706.89 937.39,707.60 940.31,708.30 943.23,709.00 946.16,709.68 949.08,710.36 952.01,711.03 954.94,711.69 957.87,712.35 960.80,713.00 963.73,713.64 966.67,714.28 969.60,714.91 972.54,715.53 975.47,716.15 978.41,716.76 981.35,717.36 984.29,717.96 987.23,718.55 990.18,719.13 993.12,719.71 996.06,720.29 999.01,720.85 1001.96,721.41 1004.90,721.97 1007.85,722.51 1010.80,723.06 1013.76,723.59 1016.71,724.12 1019.66,724.64 1022.62,725.16 1025.57,725.67 1028.53,726.18 1031.48,726.68 1034.44,727.17 1037.40,727.66 1040.36,728.15 1043.32,728.62 1046.29,729.09 1049.25,729.56 1052.21,730.02 1055.18,730.47 1058.14,730.92 1061.11,731.37 1064.08,731.81 1067.04,732.24 1070.01,732.67 1072.98,733.09 1075.95,733.50 1078.92,733.92 1081.90,734.32 1084.87,734.72 1087.84,735.12 1090.82,735.51 1093.79,735.90 1096.77,736.28 1099.74,736.65 1102.72,737.02 1105.70,737.39 1108.68,737.75 1111.66,738.11 1114.64,738.46 1117.62,738.81 1120.60,739.15 1123.58,739.49 1126.56,739.82 1129.54,740.15 1132.53,740.47 1135.51,740.79 1138.50,741.10 1141.48,741.41 1144.47,741.72 1147.45,742.02 1150.44,742.32 1153.43,742.61 1156.41,742.90 1159.40,743.18 1162.39,743.46 1165.38,743.74 1168.37,744.01 1171.36,744.28 1174.35,744.54 1177.34,744.80 1180.33,745.05 1183.32,745.31 1186.31,745.55 1189.30,745.80 1192.29,746.04 1195.29,746.27 1198.28,746.51 1201.27,746.73 1204.27,746.96 1207.26,747.18 1210.25,747.40 1213.25,747.61 1216.24,747.82 1219.24,748.03 1222.23,748.23 1225.23,748.43 1228.22,748.63 1231.22,748.82 1234.21,749.02 1237.21,749.20 1240.20,749.39 1243.20,749.57 1246.19,749.74 1249.19,749.92 1252.19,750.09 1255.18,750.26 1258.18,750.42 1261.18,750.58 1264.17,750.74 1267.17,750.90 1270.17,751.05 1273.16,751.20 1276.16,751.35 1279.16,751.49 1282.15,751.63 1285.15,751.77 1288.15,751.90 1291.15,752.03 1294.14,752.16 1297.14,752.29 1300.14,752.41 1303.14,752.53 1306.13,752.64 1309.13,752.76 1312.13,752.87 1315.13,752.98 1318.13,753.08 1321.13,753.18 1324.12,753.28 1327.12,753.38 1330.12,753.47 1333.12,753.56 1336.12,753.65 1339.12,753.74 1342.12,753.82 1345.12,753.90 1348.11,753.98 1351.11,754.05 1354.11,754.13 1357.11,754.19 1360.11,754.26 1363.11,754.32 1366.11,754.39 1369.11,754.44 1372.11,754.50 1375.11,754.55 1378.11,754.61 1381.11,754.65 1384.11,754.70 1387.11,754.74 1390.11,754.78 1393.11,754.82 1396.11,754.86 1399.11,754.89 1402.11,754.92 1405.11,754.95 1408.11,754.98 1411.11,755.00 1414.11,755.02 1417.11,755.04 1420.11,755.05 1423.11,755.07 1426.11,755.08 1429.11,755.09 1432.11,755.10 1435.11,755.10 1438.11,755.10 1441.11,755.10 1444.11,755.10 1447.11,755.09 1450.11,755.09 1453.11,755.08 1456.11,755.07 1459.11,755.05 1462.11,755.04 1465.11,755.02 1468.11,755.00 1471.11,754.98 1474.11,754.95 1477.11,754.93 1480.11,754.90 1483.11,754.87 1486.11,754.83 1489.11,754.80 1492.11,754.76 1495.11,754.72 1498.11,754.68 1501.11,754.64 1504.11,754.59 1507.11,754.54 1510.11,754.49 1513.12,754.44 1516.12,754.39 1519.12,754.34 1522.12,754.28 1525.12,754.22 1528.12,754.16 1531.12,754.10 1534.12,754.03 1537.12,753.96 1540.12,753.90 1543.12,753.83 1546.12,753.75 1549.12,753.68 1552.12,753.60 1555.12,753.53 1558.12,753.45 1561.12,753.37 1564.12,753.28 1567.12,753.20 1570.11,753.11 1573.11,753.03 1576.11,752.94 1579.11,752.85 1582.11,752.75 1585.11,752.66 1588.11,752.56 1591.11,752.46 1594.11,752.37 1597.11,752.26 1600.11,752.16 1603.11,752.06 1606.11,751.95 1609.11,751.85 1612.10,751.74 1615.10,751.63 1618.10,751.52 1621.10,751.40 1624.10,751.29 1627.10,751.17 1630.10,751.05 1633.09,750.94 1636.09,750.81 1639.09,750.69 1642.09,750.57 1645.09,750.45 1648.08,750.32 1651.08,750.19 1654.08,750.06 1657.08,749.93 1660.08,749.80 1663.07,749.67 1666.07,749.54 1669.07,749.40 1672.06,749.27 1675.06,749.13 1678.06,748.99 1681.06,748.85 1684.05,748.71 1687.05,748.57 1690.05,748.42 1693.04,748.28 1696.04,748.13 1699.03,747.99 1702.03,747.84 1705.03,747.69 1708.02,747.54 1711.02,747.39 1714.01,747.24 1717.01,747.08 1720.00,746.93 1723.00,746.77 1726.00,746.62"/>
<polyline stroke="#00ff00" points="331.00,868.10 334.03,867.96 337.05,867.83 340.06,867.69 343.07,867.54 346.07,867.40 349.07,867.26 352.06,867.11 355.05,866.95 358.04,866.80 361.02,866.64 364.00,866.47 366.98,866.30 369.96,866.12 372.93,865.93 375.91,865.74 378.88,865.54 381.86,865.33 384.84,865.11 387.82,864.88 390.80,864.65 393.79,864.40 396.78,864.14 399.77,863.87 402.77,863.58 405.77,863.29 408.77,862.97 411.78,862.64 414.78,862.29 417.79,861.92 420.79,861.52 423.80,861.10 426.80,860.66 429.79,860.18 432.78,859.67 435.76,859.13 438.74,858.56 441.71,857.95 444.67,857.30 447.61,856.61 450.55,855.88 453.48,855.10 456.39,854.28 459.29,853.41 462.17,852.49 465.04,851.52 467.89,850.50 470.72,849.42 473.53,848.29 476.31,847.10 479.07,845.85 481.79,844.54 484.48,843.17 487.13,841.74 489.73,840.24 492.29,838.68 494.80,837.06 497.25,835.37 499.65,833.61 501.98,831.78 504.25,829.88 506.47,827.93 508.63,825.91 510.73,823.83 512.77,821.69 514.76,819.50 516.70,817.26 518.59,814.97 520.43,812.63 522.21,810.25 523.95,807.82 525.64,805.35 527.29,802.84 528.89,800.30 530.45,797.72 531.96,795.11 533.43,792.47 534.87,789.80 536.26,787.11 537.62,784.40 538.93,781.67 540.22,778.92 541.47,776.15 542.68,773.37 543.87,770.58 545.02,767.78 546.15,764.98 547.24,762.16 548.31,759.34 549.35,756.51 550.36,753.68 551.34,750.83 552.30,747.98 553.23,745.13 554.15,742.26 555.03,739.40 555.90,736.52 556.74,733.64 557.56,730.76 558.36,727.87 559.14,724.97 559.91,722.07 560.65,719.16 561.38,716.25 562.09,713.34 562.78,710.42 563.46,707.50 564.13,704.58 564.78,701.65 565.42,698.71 566.05,695.78 566.66,692.84 567.27,689.90 567.86,686.96 568.44,684.01 569.02,681.06 569.59,678.11 570.15,675.16 570.71,672.21 571.26,669.26 571.80,666.30 572.34,663.35 572.88,660.39 573.42,657.44 573.95,654.48 574.48,651.52 575.01,648.57 575.54,645.61 576.06,642.65 576.58,639.69 577.10,636.73 577.61,633.77 578.13,630.81 578.64,627.85 579.14,624.89 579.64,621.93 580.14,618.97 580.64,616.01 581.13,613.05 581.62,610.08 582.11,607.12 582.59,604.16 583.07,601.19 583.54,598.23 584.01,595.26 584.48,592.29 584.94,589.33 585.40,586.36 585.85,583.39 586.30,580.42 586.74,577.45 587.18,574.48 587.62,571.51 588.05,568.54 588.47,565.57 588.89,562.60 589.31,559.62 589.72,556.65 590.12,553.67 590.52,550.70 590.92,547.72 591.31,544.74 591.69,541.77 592.07,538.79 592.44,535.81 592.81,532.83 593.18,529.85 593.54,526.87 593.90,523.88 594.26,520.90 594.61,517.92 594.96,514.94 595.31,511.95 595.65,508.97 596.00,505.98 596.34,503.00 596.68,500.02 597.02,497.03 597.36,494.05 597.70,491.06 598.04,488.08 598.38,485.09 598.72,482.11 599.07,479.12 599.41,476.14 599.75,473.16 600.10,470.17 600.45,467.19 600.80,464.20 601.15,461.22 601.51,458.24 601.87,455.26 602.23,452.28 602.59,449.29 602.97,446.31 603.34,443.33 603.72,440.35 604.10,437.38 604.49,434.40 604.89,431.42 605.29,428.45 605.69,425.47 606.10,422.49 606.51,419.52 606.93,416.55 607.35,413.57 607.78,410.60 608.20,407.63 608.64,404.65 609.07,401.68 609.51,398.71 609.95,395.74 610.39,392.77 610.84,389.80 611.29,386.83 611.74,383.86 612.19,380.89 612.64,377.92 613.10,374.95 613.56,371.98 614.01,369.01 614.47,366.04 614.93,363.07 615.39,360.10 615.85,357.13 616.31,354.16 616.77,351.19 617.23,348.23 617.69,345.26 618.15,342.28 618.61,339.31 619.07,336.34 619.53,333.37 619.98,330.40 620.44,327.43 620.89,324.46 621.34,321.49 621.80,318.51 622.27,315.55 622.75,312.58 623.25,309.62 623.77,306.67 624.32,303.72 624.90,300.78 625.51,297.85 626.17,294.93 626.87,292.03 627.62,289.13 628.42,286.25 629.29,283.39 630.21,280.54 631.20,277.71 632.26,274.89 633.40,272.10 641.00,265.20 646.10,270.90 647.34,273.65 648.53,276.41 649.67,279.18 650.78,281.97 651.84,284.78 652.87,287.60 653.87,290.42 654.83,293.26 655.76,296.11 656.66,298.97 657.54,301.84 658.39,304.72 659.22,307.60 660.03,310.49 660.82,313.38 661.60,316.28 662.37,319.18 663.12,322.09 663.87,325.00 664.61,327.90 665.34,330.81 666.07,333.72 666.79,336.63 667.51,339.54 668.23,342.46 668.94,345.37 669.65,348.28 670.35,351.20 671.05,354.11 671.74,357.03 672.44,359.94 673.13,362.86 673.82,365.78 674.50,368.69 675.19,371.61 675.87,374.53 676.55,377.45 677.23,380.37 677.91,383.30 678.59,386.22 679.27,389.14 679.95,392.06 680.63,394.99 681.31,397.91 681.99,400.83 682.67,403.76 683.35,406.69 684.04,409.61 684.72,412.54 685.41,415.46 686.11,418.39 686.80,421.31 687.50,424.23 688.21,427.16 688.92,430.08 689.63,433.00 690.35,435.91 691.07,438.83 691.81,441.75 692.55,444.66 693.29,447.57 694.04,450.48 694.81,453.38 695.58,456.29 696.36,459.19 697.14,462.08 697.94,464.98 698.75,467.87 699.57,470.75 700.40,473.64 701.24,476.52 702.09,479.39 702.96,482.26 703.84,485.13 704.73,487.99 705.63,490.85 706.55,493.70 707.48,496.54 708.43,499.38 709.39,502.22 710.37,505.05 711.36,507.87 712.38,510.69 713.40,513.50 714.45,516.31 715.51,519.11 716.59,521.90 717.69,524.68 718.80,527.46 719.94,530.23 721.10,533.00 722.27,535.75 723.47,538.50 724.69,541.24 725.93,543.97 727.19,546.69 728.47,549.41 729.78,552.11 731.10,554.81 732.45,557.50 733.82,560.18 735.21,562.85 736.62,565.51 738.05,568.16 739.50,570.80 740.97,573.44 742.46,576.06 743.96,578.67 745.49,581.28 747.03,583.87 748.59,586.46 750.16,589.03 751.76,591.59 753.37,594.14 755.01,596.67 756.67,599.19 758.35,601.69 760.06,604.16 761.80,606.61 763.56,609.04 765.36,611.45 767.18,613.82 769.04,616.17 770.93,618.49 772.86,620.77 774.83,623.02 776.83,625.24 778.87,627.42 780.94,629.57 783.05,631.68 785.19,633.76 787.36,635.81 789.57,637.82 791.81,639.80 794.07,641.76 796.37,643.67 798.69,645.56 801.04,647.42 803.42,649.25 805.82,651.04 808.25,652.81 810.70,654.54 813.17,656.25 815.67,657.93 818.18,659.58 820.72,661.20 823.27,662.80 825.85,664.36 828.44,665.90 831.04,667.41 833.67,668.90 836.30,670.36 838.96,671.79 841.62,673.19 844.30,674.57 846.99,675.92 849.69,677.25 852.40,678.55 855.12,679.83 857.85,681.08 860.59,682.31 863.34,683.51 866.10,684.70 868.86,685.85 871.64,686.99 874.42,688.10 877.21,689.19 880.01,690.26 882.82,691.31 885.63,692.33 888.45,693.34 891.28,694.32 894.11,695.29 896.95,696.24 899.80,697.17 902.65,698.08 905.51,698.97 908.38,699.84 911.25,700.70 914.13,701.54 917.01,702.36 919.89,703.17 922.79,703.96 925.68,704.74 928.58,705.50 931.49,706.25 934.39,706.98 937.30,707.70 940.22,708.41 943.14,709.11 946.06,709.80 948.98,710.47 951.91,711.14 954.84,711.80 957.77,712.44 960.71,713.08 963.64,713.72 966.58,714.34 969.52,714.96 972.46,715.57 975.40,716.18 978.34,716.78 981.28,717.37 984.22,717.96 987.17,718.54 990.11,719.12 993.06,719.69 996.01,720.25 998.96,720.81 1001.91,721.36 1004.86,721.91 1007.81,722.45 1010.76,722.99 1013.72,723.52 1016.67,724.05 1019.63,724.57 1022.58,725.08 1025.54,725.59 1028.50,726.09 1031.46,726.59 1034.42,727.08 1037.38,727.57 1040.34,728.05 1043.30,728.52 1046.26,728.99 1049.23,729.46 1052.19,729.92 1055.16,730.37 1058.12,730.82 1061.09,731.27 1064.06,731.71 1067.03,732.14 1070.00,732.57 1072.97,732.99 1075.94,733.41 1078.91,733.82 1081.88,734.23 1084.85,734.63 1087.83,735.03 1090.80,735.43 1093.77,735.81 1096.75,736.20 1099.73,736.58 1102.70,736.95 1105.68,737.32 1108.66,737.68 1111.63,738.04 1114.61,738.40 1117.59,738.75 1120.57,739.09 1123.55,739.43 1126.53,739.77 1129.52,740.10 1132.50,740.43 1135.48,740.75 1138.46,741.07 1141.45,741.38 1144.43,741.69 1147.42,742.00 1150.40,742.30 1153.39,742.59 1156.37,742.89 1159.36,743.17 1162.35,743.46 1165.33,743.74 1168.32,744.01 1171.31,744.28 1174.30,744.55 1177.29,744.81 1180.28,745.07 1183.27,745.33 1186.26,745.58 1189.25,745.82 1192.24,746.07 1195.23,746.30 1198.22,746.54 1201.22,746.77 1204.21,747.00 1207.20,747.22 1210.20,747.44 1213.19,747.66 1216.18,747.87 1219.18,748.08 1222.17,748.28 1225.17,748.48 1228.16,748.68 1231.16,748.87 1234.15,749.06 1237.15,749.25 1240.14,749.43 1243.14,749.61 1246.14,749.79 1249.13,749.96 1252.13,750.13 1255.13,750.30 1258.12,750.46 1261.12,750.62 1264.12,750.78 1267.12,750.93 1270.11,751.08 1273.11,751.23 1276.11,751.38 1279.11,751.52 1282.11,751.65 1285.11,751.79 1288.10,751.92 1291.10,752.05 1294.10,752.17 1297.10,752.30 1300.10,752.42 1303.10,752.53 1306.10,752.65 1309.10,752.76 1312.10,752.87 1315.10,752.97 1318.10,753.08 1321.09,753.18 1324.09,753.28 1327.09,753.37 1330.09,753.46 1333.09,753.55 1336.09,753.64 1339.09,753.72 1342.09,753.81 1345.09,753.88 1348.09,753.96 1351.09,754.03 1354.09,754.10 1357.09,754.17 1360.09,754.24 1363.09,754.30 1366.09,754.36 1369.09,754.42 1372.09,754.48 1375.09,754.53 1378.09,754.58 1381.09,754.63 1384.09,754.67 1387.09,754.72 1390.09,754.76 1393.09,754.79 1396.09,754.83 1399.09,754.86 1402.09,754.89 1405.09,754.92 1408.09,754.95 1411.09,754.97 1414.09,754.99 1417.09,755.01 1420.09,755.03 1423.09,755.04 1426.09,755.05 1429.09,755.06 1432.09,755.07 1435.09,755.08 1438.09,755.08 1441.09,755.08 1444.09,755.08 1447.09,755.07 1450.10,755.07 1453.10,755.06 1456.10,755.05 1459.10,755.03 1462.10,755.02 1465.10,755.00 1468.10,754.98 1471.10,754.96 1474.10,754.94 1477.10,754.91 1480.10,754.88 1483.10,754.85 1486.10,754.82 1489.10,754.79 1492.10,754.75 1495.10,754.71 1498.10,754.67 1501.10,754.63 1504.10,754.59 1507.10,754.54 1510.10,754.49 1513.10,754.44 1516.10,754.39 1519.10,754.34 1522.10,754.28 1525.10,754.22 1528.10,754.16 1531.10,754.10 1534.10,754.04 1537.10,753.97 1540.10,753.90 1543.10,753.83 1546.10,753.76 1549.10,753.69 1552.10,753.61 1555.10,753.54 1558.10,753.46 1561.10,753.38 1564.10,753.30 1567.10,753.21 1570.10,753.13 1573.10,753.04 1576.10,752.95 1579.10,752.86 1582.10,752.77 1585.10,752.68 1588.09,752.58 1591.09,752.48 1594.09,752.39 1597.09,752.28 1600.09,752.18 1603.09,752.08 1606.09,751.97 1609.09,751.87 1612.09,751.76 1615.09,751.65 1618.09,751.54 1621.08,751.42 1624.08,751.31 1627.08,751.19 1630.08,751.08 1633.08,750.96 1636.08,750.84 1639.08,750.72 1642.07,750.59 1645.07,750.47 1648.07,750.34 1651.07,750.21 1654.07,750.08 1657.07,749.95 1660.06,749.82 1663.06,749.69 1666.06,749.55 1669.06,749.42 1672.05,749.28 1675.05,749.14 1678.05,749.00 1681.05,748.86 1684.04,748.72 1687.04,748.58 1690.04,748.43 1693.04,748.29 1696.03,748.14 1699.03,747.99 1702.03,747.84 1705.02,747.69 1708.02,747.54 1711.02,747.38 1714.02,747.23 1717.01,747.07 1720.01,746.92 1723.00,746.76 1726.00,746.60"/>
</g>
<path d="M408.44 869.50v-10.10M408.44 7.30v10.10M485.93 869.50v-16.40M485.93 7.30v16.40M563.42 869.50v-10.10M563.42 7.30v10.10M640.91 869.50v-10.10M640.91 7.30v10.10M718.39 869.50v-10.10M718.39 7.30v10.10M795.88 869.50v-16.40M795.88 7.30v16.40M873.37 869.50v-10.10M873.37 7.30v10.10M950.86 869.50v-10.10M950.86 7.30v10.10M1028.35 869.50v-10.10M1028.35 7.30v10.10M1105.84 869.50v-16.40M1105.84 7.30v16.40M1183.33 869.50v-10.10M1183.33 7.30v10.10M1260.82 869.50v-10.10M1260.82 7.30v10.10M1338.31 869.50v-10.10M1338.31 7.30v10.10M1415.79 869.50v-16.40M1415.79 7.30v16.40M1493.28 869.50v-10.10M1493.28 7.30v10.10M1570.77 869.50v-10.10M1570.77 7.30v10.10M1648.26 869.50v-10.10M1648.26 7.30v10.10M330.95 818.78h10.10M1725.75 818.78h-10.10M330.95 768.06h10.10M1725.75 768.06h-10.10M330.95 717.35h10.10M1725.75 717.35h-10.10M330.95 666.63h10.10M1725.75 666.63h-10.10M330.95 615.91h16.40M1725.75 615.91h-16.40M330.95 565.19h10.10M1725.75 565.19h-10.10M330.95 514.48h10.10M1725.75 514.48h-10.10M330.95 463.76h10.10M1725.75 463.76h-10.10M330.95 413.04h10.10M1725.75 413.04h-10.10M330.95 362.32h16.40M1725.75 362.32h-16.40M330.95 311.61h10.10M1725.75 311.61h-10.10M330.95 260.89h10.10M1725.75 260.89h-10.10M330.95 210.17h10.10M1725.75 210.17h-10.10M330.95 159.45h10.10M1725.75 159.45h-10.10M330.95 108.74h16.40M1725.75 108.74h-16.40M330.95 58.02h10.10M1725.75 58.02h-10.10" stroke="#000" stroke-width="10.1" fill="none"/>
<g fill="#000">
<rect x="325.95" y="2.20" width="1404.80" height="10.20"/>
<rect x="325.95" y="864.40" width="1404.80" height="10.20"/>
<rect x="325.95" y="2.20" width="10.00" height="872.40"/>
<rect x="1720.75" y="2.20" width="10.00" height="872.40"/>
</g>
<text transform="translate(0,896.70) scale(1,1.0340)" x="273.73" y="0" font-size="79">0</text>
<text transform="translate(0,643.71) scale(1,1.0120)" x="273.91" y="0" font-size="79">5</text>
<g clip-path="url(#c1_1)"><text transform="translate(0,389.52) scale(1,1.0340)" x="233.55 273.73" y="0" font-size="79">10</text></g>
<g clip-path="url(#c1_2)"><text transform="translate(0,136.34) scale(1,1.0120)" x="233.55 273.91" y="0" font-size="79">15</text></g>
<text transform="translate(0,953.50) scale(1,1.0340)" x="463.23" y="0" font-size="79">2</text>
<text transform="translate(0,953.50) scale(1,1.0340)" x="772.68" y="0" font-size="79">4</text>
<text transform="translate(0,953.50) scale(1,1.0340)" x="1083.21" y="0" font-size="79">6</text>
<text transform="translate(0,953.50) scale(1,1.0340)" x="1393.53" y="0" font-size="79">8</text>
<g clip-path="url(#c1_3)"><text transform="translate(0,953.50) scale(1,1.0340)" x="1684.75 1724.93" y="0" font-size="79">10</text></g>
<text transform="translate(895.91,1072.30) scale(1.0595,1.0035)" x="0" y="0" font-size="73" class="gk">ω</text>
<text transform="translate(0,1072.20) scale(1,1.02)" y="0" font-size="79"><tspan class="pr" x="953.82" dy="3.24" font-size="78.8">(</tspan><tspan x="982.04 1041.56 1084.55" dy="-3.24">GeV</tspan><tspan class="pr" x="1133.71" dy="3.24" font-size="78.8">)</tspan></text>
<g transform="translate(0,441.65) rotate(-90)">
<text transform="translate(-82.86,60.70) scale(1.0280,1.0095)" x="0" y="0" font-size="73" class="gk">ρ</text>
<text class="pr" y="64.90" font-size="79.6"><tspan x="-25.49">(</tspan></text>
<text transform="translate(4.66,60.70) scale(1.0595,1.0096)" x="0" y="0" font-size="73" class="gk">ω</text>
<text class="pr" y="64.60" font-size="79.6"><tspan x="61.15">)</tspan></text>
<rect x="-86.65" y="95.70" width="173.30" height="7.15" fill="#000"/>
<text transform="translate(-25.74,191.55) scale(1.0595,1.0182)" x="0" y="0" font-size="73" class="gk">ω</text>
</g>
</svg></body></html>
